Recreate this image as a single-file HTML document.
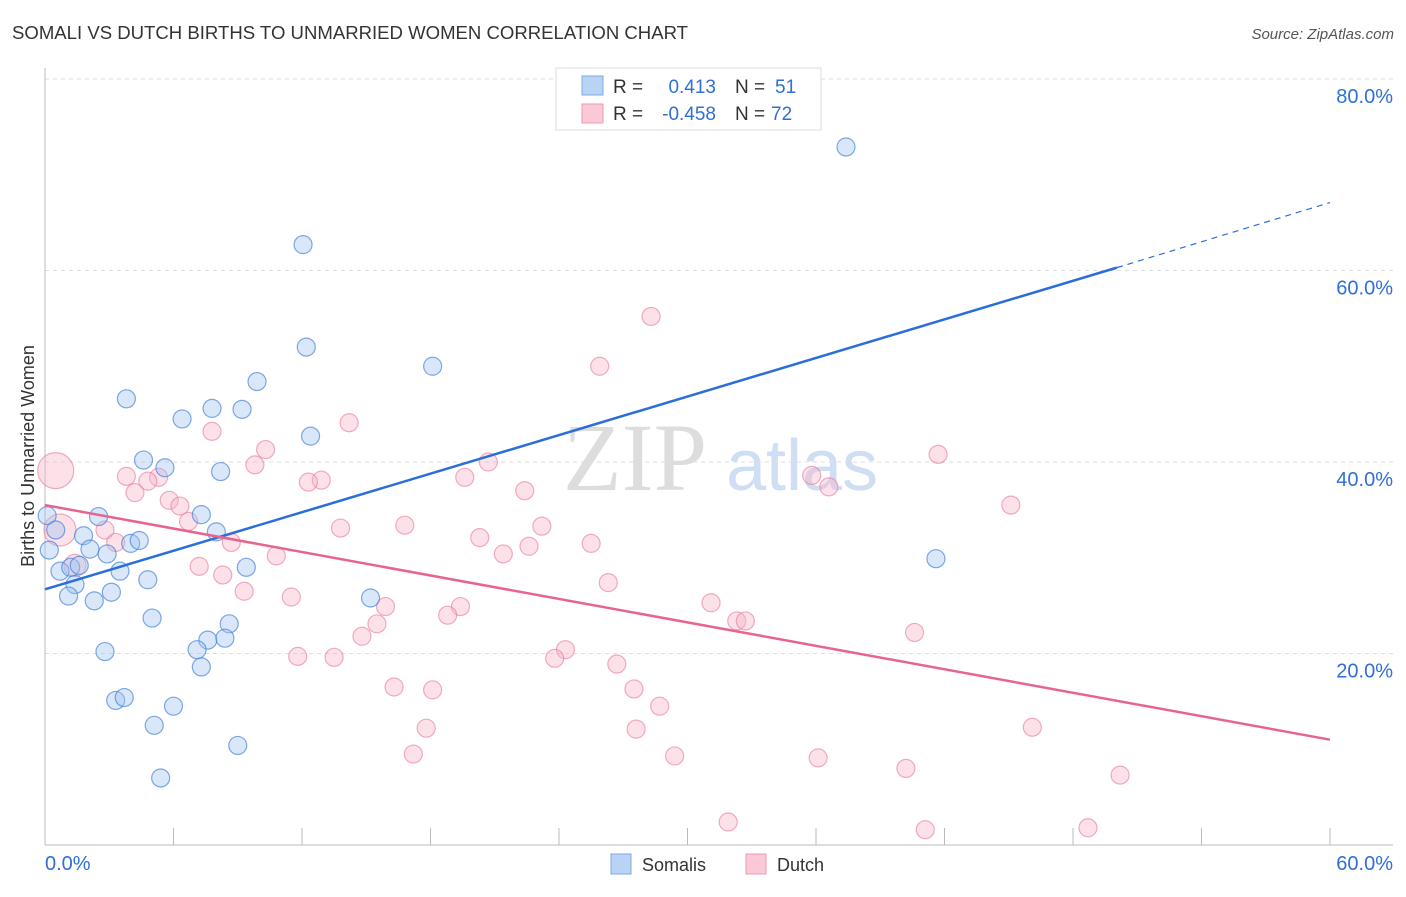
<!DOCTYPE html>
<html><head><meta charset="utf-8"><style>
body{margin:0;background:#fff;font-family:"Liberation Sans",sans-serif;}
svg text{font-family:"Liberation Sans",sans-serif;}
</style></head><body>
<svg id="chart" width="1406" height="892" xmlns="http://www.w3.org/2000/svg">
<text x="12" y="39" font-size="18" fill="#333" textLength="676" lengthAdjust="spacingAndGlyphs">SOMALI VS DUTCH BIRTHS TO UNMARRIED WOMEN CORRELATION CHART</text>
<text x="1394" y="39" font-size="15" fill="#555" font-style="italic" text-anchor="end">Source: ZipAtlas.com</text>
<text x="635" y="490" font-size="96" fill="#ddd" style="font-family:'Liberation Serif',serif" text-anchor="middle">ZIP</text>
<text x="802" y="490" font-size="72" fill="#d0def3" text-anchor="middle">atlas</text>
<text transform="translate(34,456) rotate(-90)" font-size="18" fill="#333" text-anchor="middle">Births to Unmarried Women</text>
<g id="grid"></g><g id="axes"></g><g id="pink"></g><g id="blue"></g><g id="trends"></g>
<g>
<rect x="556" y="68" width="265" height="62" fill="#fff" stroke="#ddd"/>
<rect x="582" y="76" width="21" height="19" fill="#b9d3f5" stroke="#7fa8e0"/>
<rect x="582" y="104" width="21" height="19" fill="#fbc8d6" stroke="#ee9ab2"/>
<text x="613" y="93" font-size="19" fill="#333">R =</text>
<text x="716" y="93" font-size="19" fill="#2f6fd6" text-anchor="end">0.413</text>
<text x="735" y="93" font-size="19" fill="#333">N =</text>
<text x="775" y="93" font-size="19" fill="#2f6fd6">51</text>
<text x="613" y="120" font-size="19" fill="#333">R =</text>
<text x="716" y="120" font-size="19" fill="#2f6fd6" text-anchor="end">-0.458</text>
<text x="735" y="120" font-size="19" fill="#333">N =</text>
<text x="771" y="120" font-size="19" fill="#2f6fd6">72</text>
</g>
<g>
<rect x="611" y="854" width="20" height="20" fill="#b9d3f5" stroke="#7fa8e0"/>
<text x="642" y="871" font-size="18" fill="#333">Somalis</text>
<rect x="746" y="854" width="20" height="20" fill="#fbc8d6" stroke="#ee9ab2"/>
<text x="777" y="871" font-size="18" fill="#333">Dutch</text>
</g>
</svg>
<script>
const yTicks=[20,40,60,80];
const yTickLabels=["20.0%","40.0%","60.0%","80.0%"];
const xTicks=[0,6,12,18,24,30,36,42,48,54,60];
const xEndLabels=["0.0%","60.0%"];
const blueX=[37.4,12.05,12.2,18.1,9.9,3.8,7.8,9.2,6.4,12.4,4.6,5.6,8.2,0.1,2.5,7.3,0.5,1.8,8.0,4.0,4.4,0.2,2.1,2.9,0.7,1.2,1.6,3.5,9.4,41.6,1.4,4.8,1.1,3.1,2.3,15.2,5.0,8.6,7.6,8.4,7.1,2.8,7.3,3.3,3.7,6.0,5.1,9.0,5.4];
const blueY=[72.9,62.7,52.0,50.0,48.4,46.6,45.6,45.5,44.5,42.7,40.2,39.4,39.0,34.4,34.3,34.5,32.9,32.3,32.7,31.5,31.8,30.8,30.9,30.4,28.6,29.0,29.2,28.6,29.0,29.9,27.2,27.7,26.0,26.4,25.5,25.8,23.7,23.1,21.4,21.6,20.4,20.2,18.6,15.1,15.4,14.5,12.5,10.4,7.0];
const pinkX=[28.3,25.9,14.2,7.8,10.3,41.7,20.7,9.8,3.8,5.3,4.8,19.6,35.8,12.9,12.3,36.6,4.2,22.4,5.8,6.3,45.1,6.7,0.5,0.7,16.8,23.2,13.8,2.8,3.3,8.7,20.3,25.5,22.6,21.4,10.8,1.4,7.2,8.3,26.3,9.3,11.5,31.1,15.9,19.4,18.8,15.5,32.3,32.7,40.6,14.8,24.3,11.8,13.5,23.8,26.7,16.3,18.1,27.5,28.7,17.8,27.6,46.1,17.2,29.4,36.1,40.2,50.2,31.9,41.1,48.7];
const pinkY=[55.2,50.0,44.1,43.2,41.3,40.8,40.0,39.7,38.5,38.4,38.0,38.4,38.6,38.1,37.9,37.4,36.8,37.0,36.0,35.4,35.5,33.8,39.1,32.9,33.4,33.3,33.1,32.9,31.6,31.6,32.1,31.5,31.2,30.4,30.2,29.2,29.1,28.2,27.4,26.5,25.9,25.3,24.9,24.9,24.0,23.1,23.4,23.4,22.2,21.8,20.4,19.7,19.6,19.5,18.9,16.5,16.2,16.3,14.5,12.2,12.1,12.3,9.5,9.3,9.1,8.0,7.3,2.4,1.6,1.8];
const pinkR=[9,9,9,9,9,9,9,9,9,9,9,9,9,9,9,9,9,9,9,9,9,9,18,16,9,9,9,9,9,9,9,9,9,9,9,11,9,9,9,9,9,9,9,9,9,9,9,9,9,9,9,9,9,9,9,9,9,9,9,9,9,9,9,9,9,9,9,9,9,9];
const blueTrend=[26.7,60.3,67.1];
const blueTrendX=[0,50.05,60];
const pinkTrend=[35.5,11.0];
const pinkTrendX=[0,60];

const NS="http://www.w3.org/2000/svg";
const X0=45,X1=1330,Y0=845,Y80=79;
function sx(v){return X0+(v/60)*(X1-X0);}
function sy(v){return Y0-(v/80)*(Y0-Y80);}
function mk(tag,attrs,parent){const e=document.createElementNS(NS,tag);for(const k in attrs)e.setAttribute(k,attrs[k]);document.getElementById(parent).appendChild(e);return e;}
yTicks.forEach((t,i)=>{
 const l=mk('line',{x1:45,x2:1393,y1:sy(t),y2:sy(t),stroke:'#ddd','stroke-dasharray':'4,4'},'grid');
 
 
 const tx=mk('text',{x:1393,y:sy(t)+24,'font-size':20,fill:'#2f6fd6','text-anchor':'end'},'grid');
 tx.textContent=yTickLabels[i];
 
 
});
const ax=mk('line',{x1:45,x2:1393,y1:Y0,y2:Y0,stroke:'#bbb'},'axes');


const ay=mk('line',{x1:45,x2:45,y1:68,y2:Y0,stroke:'#bbb'},'axes');


xTicks.forEach(t=>{
 const l=mk('line',{x1:sx(t),x2:sx(t),y1:828,y2:Y0,stroke:'#bbb'},'axes');
 
 
});
const xl0=mk('text',{x:45,y:870,'font-size':20,fill:'#2f6fd6'},'axes');xl0.textContent=xEndLabels[0];


const xl1=mk('text',{x:1393,y:870,'font-size':20,fill:'#2f6fd6','text-anchor':'end'},'axes');xl1.textContent=xEndLabels[1];


pinkX.forEach((v,i)=>{
 const c=mk('circle',{cx:sx(v),cy:sy(pinkY[i]),r:pinkR[i],fill:'rgba(248,180,200,0.4)',stroke:'rgba(232,120,155,0.6)','stroke-width':1.2},'pink');
 
 
});
blueX.forEach((v,i)=>{
 const c=mk('circle',{cx:sx(v),cy:sy(blueY[i]),r:9,fill:'rgba(160,195,240,0.4)',stroke:'rgba(60,125,215,0.65)','stroke-width':1.2},'blue');
 
 
});
const bt=mk('line',{x1:sx(blueTrendX[0]),y1:sy(blueTrend[0]),x2:sx(blueTrendX[1]),y2:sy(blueTrend[1]),stroke:'#2a6fd8','stroke-width':2.5},'trends');


const bd=mk('line',{x1:sx(blueTrendX[1]),y1:sy(blueTrend[1]),x2:sx(blueTrendX[2]),y2:sy(blueTrend[2]),stroke:'#2a6fd8','stroke-width':1.2,'stroke-dasharray':'6,5'},'trends');


const pt=mk('line',{x1:sx(pinkTrendX[0]),y1:sy(pinkTrend[0]),x2:sx(pinkTrendX[1]),y2:sy(pinkTrend[1]),stroke:'#e8648e','stroke-width':2.5},'trends');


</script>
</body></html>
